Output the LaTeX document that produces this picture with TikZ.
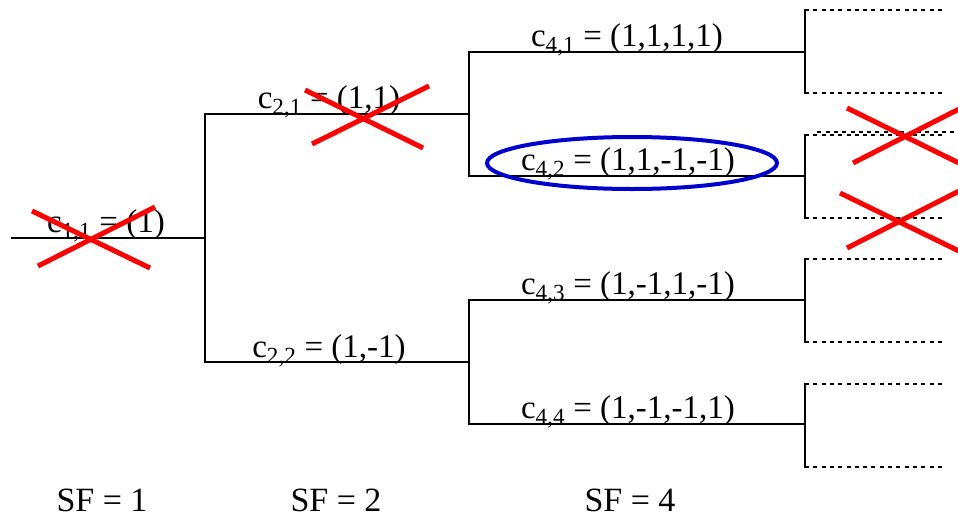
\documentclass[tikz,border=0pt]{standalone}
\usepackage{fontspec}
\setmainfont{Liberation Serif}
\definecolor{ringblue}{RGB}{0,0,204}
\begin{document}
\begin{tikzpicture}[x=1pt,y=-1pt,
  branch/.style={line width=2.6pt,black,line cap=rect},
  open/.style={line width=2.6pt,black,dash pattern=on 4pt off 4.3pt},
  cross/.style={line width=5pt,red},
  lbl/.style={anchor=base,inner sep=0pt,font=\fontsize{33}{38}\selectfont},
  sflbl/.style={anchor=base,inner sep=0pt,text depth=0pt,font=\fontsize{34}{38}\selectfont},
  ring/.style={draw=ringblue,line width=4pt},
]
\useasboundingbox (0,0) rectangle (958,520);
\clip (0,0) rectangle (958,520);
% coordinates
\coordinate (r0) at (12,238);
\coordinate (n1) at (205,238);
\coordinate (n1t) at (205,114);
\coordinate (n1b) at (205,362);
\coordinate (n21) at (469,114);
\coordinate (n22) at (469,362);
\coordinate (n21t) at (469,52);
\coordinate (n21b) at (469,176);
\coordinate (n22t) at (469,300);
\coordinate (n22b) at (469,424);
\coordinate (e1) at (805,52);
\coordinate (e2) at (805,176);
\coordinate (e3) at (805,300);
\coordinate (e4) at (805,424);
\foreach \i/\t/\b in {1/10/93,2/135/218,3/259/342,4/384/467}{
  \coordinate (e\i t) at (805,\t);
  \coordinate (e\i b) at (805,\b);
  \coordinate (f\i t) at (946,\t);
  \coordinate (f\i b) at (946,\b);
}
\coordinate (g1) at (813,132);
\coordinate (g2) at (958,132);
% tree
\draw[branch] (r0) -- (n1);
\draw[branch] (n1t) -- (n1b);
\draw[branch] (n1t) -- (n21);
\draw[branch] (n1b) -- (n22);
\draw[branch] (n21t) -- (n21b);
\draw[branch] (n22t) -- (n22b);
\draw[branch] (n21t) -- (e1);
\draw[branch] (n21b) -- (e2);
\draw[branch] (n22t) -- (e3);
\draw[branch] (n22b) -- (e4);
\foreach \i in {1,...,4}{
  \draw[branch] (e\i t) -- (e\i b);
  \draw[open] (e\i t) -- (f\i t);
  \draw[open] (e\i b) -- (f\i b);
}
\draw[open,dash phase=4pt] (g1) -- (g2);
% labels
\node[lbl] (l11) at (106,232) {c\textsubscript{1,1} = (1)};
\node[lbl] (l21) at (329,108) {c\textsubscript{2,1} = (1,1)};
\node[lbl] (l22) at (329,357) {c\textsubscript{2,2} = (1,-1)};
\node[lbl] (l41) at (627,46) {c\textsubscript{4,1} = (1,1,1,1)};
\node[lbl] (l42) at (628,170) {c\textsubscript{4,2} = (1,1,-1,-1)};
\node[lbl] (l43) at (628,294) {c\textsubscript{4,3} = (1,-1,1,-1)};
\node[lbl] (l44) at (628,418) {c\textsubscript{4,4} = (1,-1,-1,1)};
\node[sflbl] (s1) at (102,511) {SF = 1};
\node[sflbl] (s2) at (336,511) {SF = 2};
\node[sflbl] (s4) at (630,511) {SF = 4};
% ellipse
\draw[ring] (632,163) ellipse [x radius=145, y radius=26];
% crosses
\draw[cross] (32,211) -- (150,268);
\draw[cross] (38,266) -- (155,207);
\draw[cross] (305,90) -- (423,148);
\draw[cross] (312,144) -- (429,86);
\draw[cross] (847,108) -- (965,166);
\draw[cross] (853,163) -- (965,106);
\draw[cross] (840,193) -- (965,254);
\draw[cross] (847,248) -- (965,188);
\end{tikzpicture}
\end{document}
